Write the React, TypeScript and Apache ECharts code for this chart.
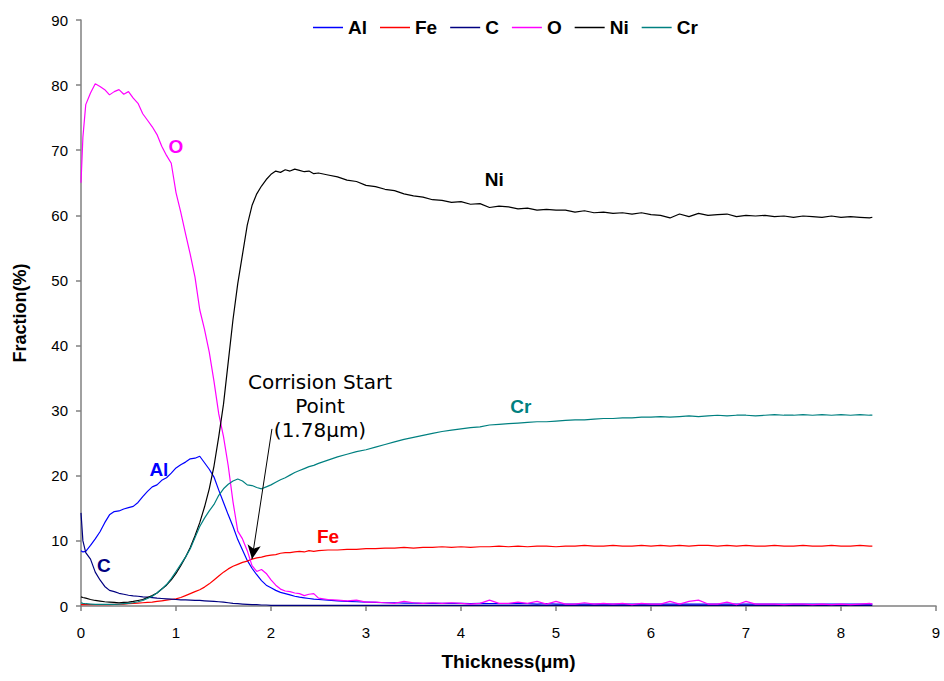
import React, { useEffect, useRef } from "react";
import * as echarts from "echarts";

const FONT = '"Liberation Sans", Arial, sans-serif';

const thickness = [
  0, 0.02, 0.05, 0.1, 0.15, 0.2, 0.25, 0.3, 0.35, 0.4, 0.45, 0.5, 0.55, 0.6, 0.65, 0.7, 0.75, 0.8, 0.85, 0.9,
  0.95, 1, 1.05, 1.1, 1.15, 1.2, 1.25, 1.3, 1.35, 1.4, 1.45, 1.5, 1.55, 1.6, 1.65, 1.7, 1.75, 1.8, 1.85, 1.9,
  1.95, 2, 2.05, 2.1, 2.15, 2.2, 2.25, 2.3, 2.35, 2.4, 2.45, 2.5,
  2.6, 2.7, 2.8, 2.9, 3, 3.1, 3.2, 3.3, 3.4, 3.5, 3.6, 3.7, 3.8, 3.9, 4, 4.1, 4.2, 4.3, 4.4, 4.5,
  4.6, 4.7, 4.8, 4.9, 5, 5.1, 5.2, 5.3, 5.4, 5.5, 5.6, 5.7, 5.8, 5.9, 6, 6.1, 6.2, 6.3, 6.4, 6.5,
  6.6, 6.7, 6.8, 6.9, 7, 7.1, 7.2, 7.3, 7.4, 7.5, 7.6, 7.7, 7.8, 7.9, 8, 8.1, 8.2, 8.3, 8.33,
];

const al = [
  8.5, 8.3, 8.4, 9.3, 10.3, 11.4, 12.8, 14.0, 14.5, 14.6, 14.9, 15.1, 15.3, 15.9, 16.8, 17.6, 18.3, 18.6, 19.3, 19.7,
  20.4, 21.2, 21.7, 22.1, 22.6, 22.7, 23.0, 22.0, 21.0, 19.8, 17.8, 15.9, 14.0, 12.2, 10.2, 8.6, 7.0, 5.8, 4.8, 3.9,
  3.2, 2.8, 2.4, 2.1, 1.9, 1.7, 1.5, 1.35, 1.25, 1.15, 1.05, 1.0,
  0.9, 0.8, 0.7, 0.65, 0.6, 0.55, 0.5, 0.5, 0.45, 0.45, 0.4, 0.4, 0.4, 0.4, 0.4, 0.35, 0.4, 0.35, 0.35, 0.35,
  0.35, 0.35, 0.3, 0.35, 0.3, 0.3, 0.3, 0.3, 0.3, 0.3, 0.3, 0.3, 0.3, 0.3, 0.3, 0.3, 0.3, 0.3, 0.3, 0.3,
  0.3, 0.3, 0.3, 0.3, 0.3, 0.3, 0.3, 0.3, 0.3, 0.3, 0.3, 0.3, 0.3, 0.3, 0.3, 0.3, 0.3, 0.3, 0.3,
];

const fe = [
  0.2, 0.2, 0.2, 0.2, 0.2, 0.2, 0.2, 0.2, 0.25, 0.3, 0.3, 0.35, 0.4, 0.45, 0.5, 0.55, 0.6, 0.7, 0.8, 0.9,
  1.0, 1.1, 1.3, 1.6, 1.9, 2.2, 2.5, 2.9, 3.4, 4.0, 4.6, 5.2, 5.7, 6.1, 6.4, 6.7, 6.9, 7.2, 7.4, 7.5,
  7.7, 7.8, 7.9, 8.1, 8.2, 8.2, 8.3, 8.4, 8.3, 8.5, 8.4, 8.5,
  8.6, 8.6, 8.7, 8.7, 8.8, 8.8, 8.9, 8.9, 9.0, 8.9, 9.0, 9.0, 9.1, 9.0, 9.1, 9.0, 9.1, 9.1, 9.2, 9.1,
  9.2, 9.1, 9.2, 9.2, 9.1, 9.2, 9.2, 9.3, 9.2, 9.2, 9.3, 9.2, 9.2, 9.3, 9.2, 9.3, 9.2, 9.3, 9.2, 9.3,
  9.3, 9.2, 9.3, 9.2, 9.3, 9.2, 9.2, 9.3, 9.2, 9.2, 9.3, 9.2, 9.2, 9.3, 9.2, 9.2, 9.3, 9.2, 9.2,
];

const carbon = [
  14.3, 10.0, 8.2, 7.2, 5.2, 4.0, 3.0, 2.4, 2.2, 1.95, 1.8, 1.65, 1.55, 1.5, 1.4, 1.35, 1.3, 1.2, 1.15, 1.1,
  1.05, 1.0, 0.95, 0.95, 0.9, 0.85, 0.85, 0.8, 0.75, 0.7, 0.65, 0.6, 0.5, 0.4, 0.35, 0.3, 0.25, 0.2, 0.2, 0.15,
  0.15, 0.1, 0.1, 0.1, 0.1, 0.1, 0.1, 0.1, 0.1, 0.1, 0.1, 0.1,
  0.1, 0.1, 0.1, 0.1, 0.1, 0.1, 0.1, 0.1, 0.1, 0.1, 0.1, 0.1, 0.1, 0.1, 0.1, 0.1, 0.1, 0.1, 0.1, 0.1,
  0.1, 0.1, 0.1, 0.1, 0.1, 0.1, 0.1, 0.1, 0.1, 0.1, 0.1, 0.1, 0.1, 0.1, 0.1, 0.1, 0.1, 0.1, 0.1, 0.1,
  0.1, 0.1, 0.1, 0.1, 0.1, 0.1, 0.1, 0.1, 0.1, 0.1, 0.1, 0.1, 0.1, 0.1, 0.1, 0.1, 0.1, 0.1, 0.1,
];

const oxygen = [
  65, 72, 77, 78.8, 80.2, 79.8, 79.3, 78.5, 79.0, 79.3, 78.6, 79.0, 78.0, 77.2, 75.6, 74.6, 73.6, 72.4, 70.6, 69.2,
  68.0, 63.5, 60.5, 57.2, 54.0, 50.5, 45.5, 42.5, 39.0, 34.5, 29.5, 26.0, 21.5, 16.0, 11.5, 10.3, 8.5, 6.2, 5.3, 5.6,
  5.0, 4.0, 3.2, 2.6, 2.3, 2.2, 2.0, 1.9, 1.6, 1.8, 1.9, 1.2,
  1.0, 0.9, 0.8, 0.9, 0.6, 0.6, 0.5, 0.4, 0.7, 0.5, 0.4, 0.5, 0.4, 0.5, 0.4, 0.3, 0.4, 0.9, 0.4, 0.4,
  0.6, 0.4, 0.7, 0.3, 0.7, 0.3, 0.3, 0.5, 0.3, 0.4, 0.3, 0.4, 0.2, 0.4, 0.3, 0.3, 0.7, 0.3, 0.7, 0.9,
  0.3, 0.3, 0.6, 0.2, 0.7, 0.3, 0.3, 0.3, 0.2, 0.3, 0.3, 0.2, 0.3, 0.2, 0.3, 0.2, 0.3, 0.4, 0.3,
];

const nickel = [
  1.4, 1.3, 1.2, 1.0, 0.85, 0.75, 0.65, 0.6, 0.55, 0.5, 0.55, 0.6, 0.7, 0.85, 1.0, 1.3, 1.6, 2.0, 2.6, 3.2,
  4.0, 5.0, 6.2, 7.5, 9.0, 10.8, 12.8, 15.2, 18.0, 21.5, 26.0, 31.0, 37.5, 44.0, 49.5, 54.0, 58.5, 61.5, 63.3, 64.5,
  65.5, 66.3, 66.8, 66.6, 67.0, 66.8, 67.1, 66.9, 66.7, 66.8, 66.4, 66.5,
  66.2, 65.9, 65.4, 65.2, 64.6, 64.4, 64.0, 63.8, 63.3, 63.0, 62.8, 62.4, 62.3, 62.0, 62.1, 61.7, 61.8, 61.2, 61.4, 61.3,
  61.0, 61.1, 60.8, 60.9, 60.8, 60.8, 60.5, 60.7, 60.4, 60.5, 60.3, 60.4, 60.2, 60.4, 60.1, 60.0, 59.6, 60.2, 59.8, 60.3,
  60.0, 60.1, 60.2, 59.8, 60.0, 59.9, 60.0, 59.8, 59.9, 59.7, 59.9, 59.8, 59.7, 59.9, 59.7, 59.8, 59.7, 59.6, 59.7,
];

const chromium = [
  0.5, 0.4, 0.35, 0.3, 0.25, 0.25, 0.25, 0.25, 0.25, 0.3, 0.35, 0.4, 0.5, 0.65, 0.85, 1.15, 1.5, 2.0, 2.6, 3.3,
  4.2, 5.3, 6.4, 7.5, 8.8, 10.5, 12.2, 13.5, 14.6, 15.6, 17.0, 18.0, 18.7, 19.2, 19.5, 19.2, 18.6, 18.5, 18.2, 18.0,
  18.3, 18.6, 19.0, 19.4, 19.7, 20.1, 20.5, 20.8, 21.1, 21.4, 21.6, 21.9,
  22.4, 22.9, 23.3, 23.7, 24.0, 24.4, 24.8, 25.2, 25.6, 25.9, 26.2, 26.5, 26.8, 27.0, 27.2, 27.4, 27.5, 27.8, 27.9, 28.0,
  28.1, 28.2, 28.3, 28.3, 28.4, 28.5, 28.6, 28.6, 28.7, 28.8, 28.8, 28.9, 28.9, 29.0, 29.0, 29.1, 29.0, 29.1, 29.2, 29.1,
  29.2, 29.3, 29.2, 29.3, 29.3, 29.2, 29.3, 29.4, 29.3, 29.3, 29.4, 29.3, 29.4, 29.3, 29.4, 29.3, 29.4, 29.3, 29.3,
];

const seriesNames = ["Al", "Fe", "C", "O", "Ni", "Cr"];
const seriesColors = ["#0000ff", "#ff0000", "#000080", "#ff00ff", "#000000", "#008080"];
const seriesValues = [al, fe, carbon, oxygen, nickel, chromium];
// label anchor (thickness, fraction) for each series name tag
const labelAnchors: number[][] = [
  [0.82, 21.0],
  [2.6, 10.6],
  [0.24, 6.2],
  [1.0, 70.5],
  [4.35, 65.5],
  [4.63, 30.7],
];

const xTicks = { min: 0, max: 9, interval: 1 };
const yTicks = { min: 0, max: 90, interval: 10 };

const arrowFrom = [2.01, 27.2];
const arrowTo = [1.8, 7.2];
const annotationText = "Corrision Start\nPoint\n(1.78μm)";

export default function App() {
  const ref = useRef<HTMLDivElement>(null);
  useEffect(() => {
    const chart = echarts.init(ref.current!, null, { renderer: "svg" });
    const series: any[] = seriesNames.map((name, k) => {
      const s: any = {
        name,
        type: "line",
        symbol: "none",
        data: thickness.map((t, i) => [t, seriesValues[k][i]]),
        lineStyle: { color: seriesColors[k], width: 1.2 },
        itemStyle: { color: seriesColors[k] },
        markPoint: {
          symbol: "circle",
          symbolSize: 0,
          silent: true,
          data: [{ coord: labelAnchors[k] }],
          label: {
            show: true,
            position: "inside",
            formatter: name,
            color: seriesColors[k],
            fontSize: 19,
            fontWeight: "bold",
            fontFamily: FONT,
          },
        },
      };
      if (name === "Ni") {
        s.markLine = {
          silent: true,
          symbol: ["none", "arrow"],
          symbolSize: [10, 14],
          label: { show: false },
          lineStyle: { color: "#000", width: 1, type: "solid" },
          data: [[{ coord: arrowFrom }, { coord: arrowTo }]],
        };
      }
      return s;
    });

    chart.setOption({
      animation: false,
      backgroundColor: "#fff",
      grid: { left: 81, right: 8, top: 20, bottom: 75, containLabel: false },
      legend: {
        left: 313,
        top: 18,
        padding: 0,
        icon: "rect",
        itemWidth: 30,
        itemHeight: 1.5,
        itemGap: 13,
        textStyle: { fontSize: 19, fontWeight: "bold", fontFamily: FONT, color: "#000" },
        data: seriesNames,
      },
      xAxis: {
        type: "value",
        ...xTicks,
        name: "Thickness(μm)",
        nameLocation: "middle",
        nameGap: 46,
        nameTextStyle: { fontSize: 19, fontWeight: "bold", fontFamily: FONT, color: "#000" },
        axisLine: { show: true, onZero: false, lineStyle: { color: "#808080", width: 1.5 } },
        axisTick: { show: true, length: 5, lineStyle: { color: "#808080", width: 1.5 } },
        axisLabel: { fontSize: 15, fontFamily: FONT, color: "#000", margin: 19 },
        splitLine: { show: false },
      },
      yAxis: {
        type: "value",
        ...yTicks,
        name: "Fraction(%)",
        nameLocation: "middle",
        nameGap: 52,
        nameTextStyle: { fontSize: 18, fontWeight: "bold", fontFamily: FONT, color: "#000" },
        axisLine: { show: true, lineStyle: { color: "#808080", width: 1.5 } },
        axisTick: { show: true, length: 5, lineStyle: { color: "#808080", width: 1.5 } },
        axisLabel: { fontSize: 15, fontFamily: FONT, color: "#000", margin: 13 },
        splitLine: { show: false },
      },
      graphic: [
        {
          type: "text",
          x: 320,
          y: 406,
          silent: true,
          style: {
            text: annotationText,
            fontSize: 20,
            fontFamily: '"DejaVu Sans", sans-serif',
            fill: "#000",
            align: "center",
            verticalAlign: "middle",
            lineHeight: 23.7,
          },
        },
      ],
      series,
    });
    return () => chart.dispose();
  }, []);
  return (
    <div
      ref={ref}
      style={{ position: "fixed", left: 0, top: 0, width: 944, height: 681, background: "#fff" }}
    />
  );
}
